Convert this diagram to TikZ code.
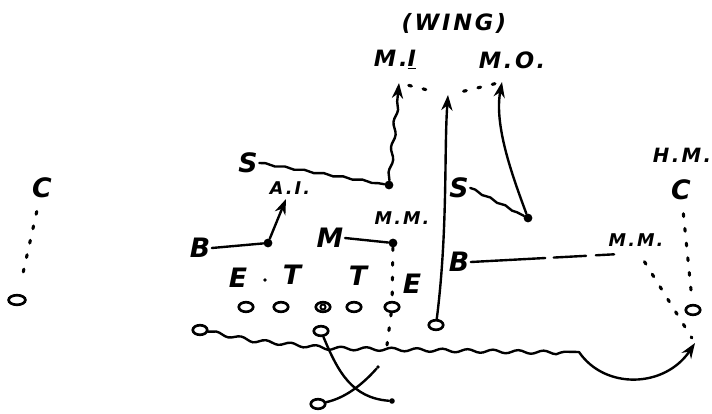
\documentclass[tikz,border=0pt]{standalone}
\usepackage{fontspec}
\usepackage{tikz}
\usetikzlibrary{positioning, arrows.meta, shapes.geometric, decorations.pathmorphing}
\newfontfamily\handfont[LetterSpace=12]{DejaVu Sans}

\tikzset{
    hand/.style={font=\handfont\bfseries\itshape\fontsize{19}{19}\selectfont, inner sep=1pt},
    handmid/.style={font=\handfont\bfseries\itshape\fontsize{16}{16}\selectfont, inner sep=1pt},
    handsmall/.style={font=\handfont\bfseries\itshape\fontsize{12.5}{12.5}\selectfont, inner sep=1pt},
    player/.style={draw, ellipse, line width=1.9pt, minimum width=0.36cm, minimum height=0.24cm, inner sep=0pt},
    centreman/.style={player, path picture={\draw[line width=1.4pt] (path picture bounding box.center) circle (1.8pt);}},
    defdot/.style={circle, fill, inner sep=0pt, minimum size=0.22cm},
    route/.style={line width=1.7pt, line cap=round},
    wavy/.style={route, decorate, decoration={snake, amplitude=1.2pt, segment length=18pt, post length=10pt}},
    zone/.style={line width=2.2pt, line cap=round, dash pattern=on 2pt off 8.5pt},
    tip/.style={-{Stealth[length=11pt, width=8pt]}},
}

\begin{document}
\begin{tikzpicture}[x=0.025cm, y=-0.025cm]
    \useasboundingbox (0,0) rectangle (712,414);

    % Nodes
    \node[handmid] (wing) at (454,23) {(WING)};
    \node[handmid] (MI) at (395,60) {M.\underline{I}};
    \node[handmid] (MO) at (512,60) {M.O.};
    \coordinate (tipMI) at (399,83);
    \coordinate (tipW) at (448,95);
    \coordinate (tipMO) at (502,82);

    \node[hand] (Sl) at (248,163) {S};
    \node[defdot] (Sldot) at (389,185) {};
    \node[handsmall] (AI) at (290,188) {A.I.};
    \coordinate (tipAI) at (286,199);
    \node[hand] (Bl) at (200,248) {B};
    \node[defdot] (Bldot) at (268,243) {};
    \node[hand] (M) at (330,238) {M};
    \node[defdot] (Mdot) at (393,243) {};
    \node[handsmall] (MMl) at (402,218) {M.M.};

    \node[hand] (El) at (238,278) {E};
    \node[defdot, minimum size=2.5pt] (spot) at (265,280) {};
    \node[hand] (Tl) at (292,275) {T};
    \node[hand] (Tr) at (358,276) {T};
    \node[hand] (Er) at (412,284) {E};

    \node[player] (LE) at (246,307) {};
    \node[player] (LT) at (281,307) {};
    \node[centreman] (Ctr) at (323,307) {};
    \node[player] (RT) at (354,307) {};
    \node[player] (RE) at (392,307) {};

    \node[player] (LB) at (200,330) {};
    \node[player] (QB) at (321,331) {};
    \node[player] (RB) at (436,325) {};
    \node[player] (XB) at (318,404) {};
    \node[defdot, minimum size=0.14cm] (Xend) at (392,401) {};
    \node[defdot, minimum size=0.09cm] (Yend) at (378,367) {};
    \coordinate (dropE) at (387,345);

    \node[hand] (Sr) at (459,188) {S};
    \node[defdot] (Srdot) at (528,218) {};
    \node[hand] (Br) at (459,262) {B};
    \coordinate (Brend) at (620,254);
    \node[handsmall] (MMr) at (636,240) {M.M.};
    \node[hand] (Cr) at (681,190) {C};
    \node[handmid, font=\handfont\bfseries\itshape\fontsize{14}{14}\selectfont] (HM) at (682,155) {H.M.};
    \node[player] (WR) at (693,310) {};
    \coordinate (turn) at (579,352);
    \coordinate (tipR) at (695,343);

    \node[hand] (Cl) at (42,188) {C};
    \node[player, minimum width=0.42cm] (WL) at (17,300) {};

    % Routes
    \draw[route, decorate, decoration={snake, amplitude=0.6pt, segment length=14pt}] (Sl.east) -- (Sldot);
    \draw[wavy, tip] (Sldot) -- (tipMI);
    \draw[zone, shorten <=0.25cm, shorten >=0.3cm] (tipMI) -- (tipW);
    \draw[zone, shorten <=0.4cm, shorten >=0.12cm] (tipW) -- (tipMO);
    \draw[route, tip] (RB) .. controls (448,230) and (444,150) .. (tipW);
    \draw[route, decorate, decoration={snake, amplitude=0.6pt, segment length=12pt}] (Sr.east) -- (Srdot);
    \draw[route, tip] (Srdot) .. controls (512,175) and (494,125) .. (tipMO);

    \draw[route] (Bl.east) -- (Bldot);
    \draw[route, tip] (Bldot) -- (tipAI);
    \draw[route] (M.east) -- (Mdot);
    \draw[zone] (Mdot) -- (RE);
    \draw[zone] (RE) -- (dropE);

    % Blocks and pulls
    \draw[wavy] (LB) -- (250,340) -- (320,347) -- (turn);
    \draw[route, tip] (turn) .. controls (605,390) and (665,388) .. (tipR);
    \draw[route] (QB) .. controls (338,372) and (352,398) .. (Xend);
    \draw[route] (XB) .. controls (345,398) and (362,385) .. (Yend);

    % Outside
    \draw[route, dash pattern=on 53pt off 6pt on 23pt off 7pt on 13pt] (Br.east) -- (Brend);
    \draw[zone, shorten <=0.4cm, shorten >=0.15cm] (MMr.south) -- (tipR);
    \draw[zone, shorten <=0.3cm, shorten >=0.3cm] (Cr) -- (WR);
    \draw[zone, shorten <=0.3cm, shorten >=0.3cm] (Cl) -- (WL);

\end{tikzpicture}
\end{document}
